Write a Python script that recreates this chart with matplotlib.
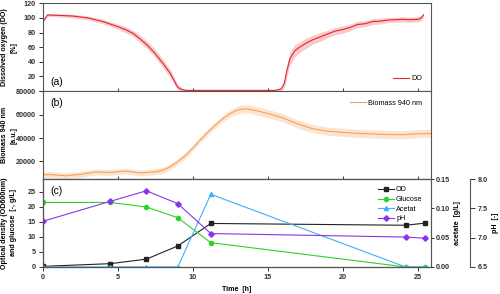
import numpy as np
import matplotlib.pyplot as plt

plt.rcParams['font.family'] = ['Liberation Sans', 'DejaVu Sans']

# (a) dissolved oxygen, mean and spread
do_t = [0, 0.3, 1, 2, 3, 4, 5, 5.5, 6, 6.5, 7, 7.5, 8, 8.5, 9, 9.3, 9.6, 10, 12, 14,
        15.5, 15.9, 16.1, 16.3, 16.5, 16.8, 17.2, 17.6, 18, 18.5, 19, 19.5, 20, 20.5,
        21, 21.5, 22, 22.5, 23, 23.5, 24, 24.5, 25, 25.2, 25.4]
do_val = [95, 104, 103.5, 102.5, 100, 95, 88, 84, 79, 71, 62, 51, 38, 24, 5, 2, 1, 1, 1, 1,
          1, 3, 10, 30, 45, 55, 61, 66, 70, 74, 78, 82, 84, 87, 91, 92, 95, 95.5, 97, 97.5,
          98, 97.5, 98, 99, 104]
do_sd = [2, 2, 2, 2.5, 2.5, 3, 3.5, 4, 4, 5, 5, 5.5, 5.5, 5.5, 4, 2, 1, 1, 1, 1,
         1, 2, 6, 9, 9, 8, 7, 7, 6, 6, 5, 5, 5, 4.5, 4.5, 4, 4, 4, 3.5, 3.5,
         3.5, 3.5, 3.5, 3.5, 3]

# (b) biomass 940 nm
bm_t = [0, 0.5, 1.5, 2.5, 3.5, 4.5, 5.5, 6.5, 7.5, 8, 8.5, 9, 9.5, 10, 10.5, 11, 11.5,
        12, 12.5, 13, 13.5, 14, 15, 16, 17, 18, 19, 20, 21, 22, 23, 24, 25, 25.9]
bm_val = [8600, 8800, 7800, 9000, 11000, 10600, 11800, 10200, 11200, 12500, 15500, 20000,
          25000, 31500, 38500, 45000, 51000, 56500, 61000, 64000, 65000, 64000, 61000,
          57200, 52000, 48000, 45800, 44800, 44000, 43500, 43000, 42800, 43600, 43800]
bm_sd = [2500, 2500, 2500, 2500, 2500, 2500, 2500, 2500, 2500, 2500, 2500, 2500,
         2500, 2500, 2500, 2500, 2500, 2500, 3000, 3500, 3500, 3500, 3500,
         3500, 3500, 3500, 3500, 3500, 3500, 3500, 3500, 3500, 3500, 3500]

# (c) offline samples
s_t = [0, 4.5, 6.9, 9.0, 11.2, 24.2, 25.5]
od = [0.2, 1.1, 2.6, 7.0, 14.5, 13.9, 14.6]
glucose = [21.5, 21.5, 20.0, 16.4, 8.1, 0.0, 0.0]
acetate = [0.0, 0.0, 0.0, 0.0, 0.124, 0.0, 0.0]
ph = [7.28, 7.62, 7.80, 7.58, 7.07, 7.01, 6.99]

fig, (ax1, ax2, ax3) = plt.subplots(3, 1, sharex=True, figsize=(5, 2.94), dpi=100)
fig.subplots_adjust(left=0.086, right=0.862, top=0.989, bottom=0.092, hspace=0)

tick_font = dict(fontsize=5.2, fontweight='bold')
lab_font = dict(fontsize=5.1, fontweight='bold')
leg_size = 5.2

# panel a
do_t = np.array(do_t); do_val = np.array(do_val); do_sd = np.array(do_sd)
ax1.fill_between(do_t, do_val - do_sd, do_val + do_sd, color='#f9c9cb', lw=0)
ax1.plot(do_t, do_val, color='#e3262d', lw=0.8, label='DO')
ax1.set_ylim(0, 120)
ax1.set_yticks([0, 20, 40, 60, 80, 100, 120])
ax1.set_yticklabels(['', '20', '40', '60', '80', '100', '120'], **tick_font)
ax1.set_ylabel('Dissolved oxygen (DO)\n[%]', linespacing=1.4, **lab_font)
ax1.legend(loc='lower right', frameon=False, fontsize=leg_size, handlelength=2.2,
           borderaxespad=0.8, handletextpad=0.3)
ax1.text(0.02, 0.07, '(a)', transform=ax1.transAxes, fontsize=7.5)

# panel b
bm_t = np.array(bm_t); bm_val = np.array(bm_val); bm_sd = np.array(bm_sd)
ax2.fill_between(bm_t, bm_val - bm_sd, bm_val + bm_sd, color='#fde4cf', lw=0)
ax2.plot(bm_t, bm_val, color='#f7a15c', lw=0.8, label='Biomass 940 nm')
ax2.set_ylim(5000, 80000)
ax2.set_yticks([20000, 40000, 60000, 80000])
ax2.set_yticklabels(['20000', '40000', '60000', '80000'], **tick_font)
ax2.set_ylabel('Biomass 940 nm\n[a.u.]', linespacing=1.4, **lab_font)
ax2.legend(loc='upper right', frameon=False, fontsize=leg_size, handlelength=2.2,
           borderaxespad=0.8, handletextpad=0.3)
ax2.text(0.02, 0.83, '(b)', transform=ax2.transAxes, fontsize=7.5)

# panel c
l1, = ax3.plot(s_t, od, color='#222222', marker='s', ms=3.0, lw=0.8, label='OD')
l2, = ax3.plot(s_t, glucose, color='#2ed12e', marker='o', ms=3.0, lw=0.8, label='Glucose')
ax3.set_ylim(0, 29.3)
ax3.set_yticks([0, 5, 10, 15, 20, 25])
ax3.set_yticklabels(['0', '5', '10', '15', '20', '25'], **tick_font)
ax3.set_ylabel('Optical density (OD600nm)\nand glucose  [-, g/L]', linespacing=1.4, **lab_font)
ax3.text(0.02, 0.83, '(c)', transform=ax3.transAxes, fontsize=7.5)

ax_ac = ax3.twinx()
l3, = ax_ac.plot(s_t, acetate, color='#3fb0f5', marker='^', ms=3.0, lw=0.8, label='Acetat')
ax_ac.set_ylim(0, 0.15)
ax_ac.set_yticks([0, 0.05, 0.10, 0.15])
ax_ac.set_yticklabels(['0.00', '0.05', '0.10', '0.15'], **tick_font)
ax_ac.set_ylabel('acetate  [g/L]', **lab_font)

ax_ph = ax3.twinx()
ax_ph.spines['right'].set_position(('axes', 1.1))
l4, = ax_ph.plot(s_t, ph, color='#8b35e6', marker='D', ms=2.8, lw=0.8, label='pH')
ax_ph.set_ylim(6.5, 8.0)
ax_ph.set_yticks([6.5, 7.0, 7.5, 8.0])
ax_ph.set_yticklabels(['6.5', '7.0', '7.5', '8.0'], **tick_font)
ax_ph.set_ylabel('pH  [-]', **lab_font)

ax3.legend(handles=[l1, l2, l3, l4], loc='upper right', frameon=False, fontsize=leg_size,
           handlelength=2.2, handletextpad=0.3, labelspacing=0.35,
           bbox_to_anchor=(0.995, 0.99))

ax3.set_xlim(0, 25.9)
ax3.set_xticks([0, 5, 10, 15, 20, 25])
ax3.set_xticklabels(['0', '5', '10', '15', '20', '25'], **tick_font)
ax3.set_xlabel('Time  [h]', **lab_font)

for ax in (ax1, ax2, ax3, ax_ac, ax_ph):
    for sp in ax.spines.values():
        sp.set_color('#555555')
        sp.set_linewidth(0.8)
    ax.tick_params(width=0.7, length=3, colors='#333333', pad=2)
for ax in (ax1, ax2):
    ax.tick_params(axis='x', direction='inout', length=5)
    ax.tick_params(axis='y', direction='out')
ax_ac.tick_params(length=2, pad=1.5)
ax_ph.tick_params(length=3.5, pad=2.5)

# label placement
for ax in (ax1, ax2, ax3):
    ax.yaxis.set_label_coords(-0.066, 0.5)
ax3.xaxis.set_label_coords(0.5, -0.215)
ax_ac.yaxis.set_label_coords(1.059, 0.5)
ax_ph.yaxis.set_label_coords(1.158, 0.5)

fig.savefig('out.png', dpi=100)
